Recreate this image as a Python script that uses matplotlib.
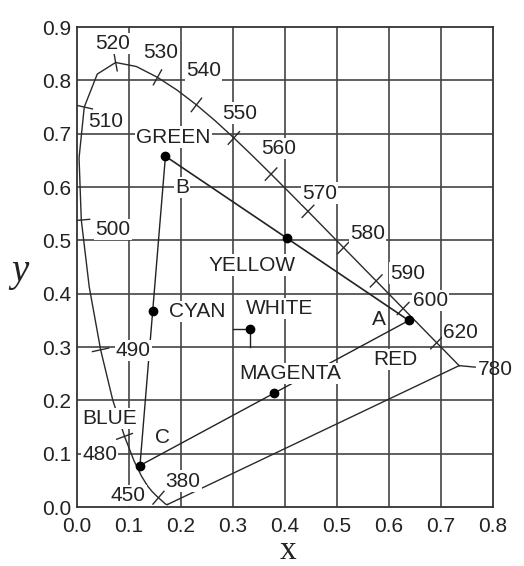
import numpy as np
import matplotlib.pyplot as plt

# CIE 1931 spectral locus (wavelength nm, x, y)
wavelengths = [380, 385, 390, 395, 400, 405, 410, 415, 420, 425, 430, 435, 440, 445,
               450, 455, 460, 465, 470, 475, 480, 485, 490, 495, 500, 505, 510, 515,
               520, 525, 530, 535, 540, 545, 550, 555, 560, 565, 570, 575, 580, 585,
               590, 595, 600, 605, 610, 615, 620, 625, 630, 635, 640, 645, 650, 660,
               670, 680, 700, 780]
locus_x = [0.1741, 0.1740, 0.1738, 0.1736, 0.1733, 0.1730, 0.1726, 0.1721, 0.1714,
           0.1703, 0.1689, 0.1669, 0.1644, 0.1611, 0.1566, 0.1510, 0.1440, 0.1355,
           0.1241, 0.1096, 0.0913, 0.0687, 0.0454, 0.0235, 0.0082, 0.0039, 0.0139,
           0.0389, 0.0743, 0.1142, 0.1547, 0.1929, 0.2296, 0.2658, 0.3016, 0.3373,
           0.3731, 0.4087, 0.4441, 0.4788, 0.5125, 0.5448, 0.5752, 0.6029, 0.6270,
           0.6482, 0.6658, 0.6801, 0.6915, 0.7006, 0.7079, 0.7140, 0.7190, 0.7230,
           0.7260, 0.7300, 0.7320, 0.7347, 0.7347, 0.7347]
locus_y = [0.0050, 0.0050, 0.0049, 0.0049, 0.0048, 0.0048, 0.0048, 0.0048, 0.0051,
           0.0058, 0.0069, 0.0086, 0.0109, 0.0138, 0.0177, 0.0227, 0.0297, 0.0399,
           0.0578, 0.0868, 0.1327, 0.2007, 0.2950, 0.4127, 0.5384, 0.6548, 0.7502,
           0.8120, 0.8338, 0.8262, 0.8059, 0.7816, 0.7543, 0.7243, 0.6923, 0.6589,
           0.6245, 0.5896, 0.5547, 0.5202, 0.4866, 0.4544, 0.4242, 0.3965, 0.3725,
           0.3514, 0.3340, 0.3197, 0.3083, 0.2993, 0.2920, 0.2859, 0.2809, 0.2770,
           0.2740, 0.2700, 0.2680, 0.2653, 0.2653, 0.2653]

# wavelength labels and where their text sits
tick_wl = [450, 480, 490, 500, 510, 520, 530, 540, 550, 560, 570, 580, 590, 600, 620]
tick_label_x = [0.098, 0.044, 0.108, 0.069, 0.056, 0.069, 0.160, 0.244, 0.312,
                0.387, 0.467, 0.558, 0.635, 0.679, 0.737]
tick_label_y = [0.022, 0.098, 0.294, 0.521, 0.724, 0.870, 0.852, 0.818, 0.739,
                0.673, 0.589, 0.514, 0.439, 0.388, 0.328]

# primaries (green, red, blue) and the white point
primary_x = [0.170, 0.638, 0.121]
primary_y = [0.658, 0.350, 0.078]
white_xy = (1 / 3, 1 / 3)

# region labels
region_names = ['GREEN', 'B', 'YELLOW', 'CYAN', 'WHITE', 'MAGENTA', 'RED', 'A', 'BLUE', 'C']
region_x = [0.185, 0.202, 0.337, 0.231, 0.390, 0.410, 0.612, 0.581, 0.062, 0.165]
region_y = [0.694, 0.600, 0.454, 0.366, 0.373, 0.250, 0.276, 0.351, 0.167, 0.131]

plt.rcParams['font.family'] = ['Liberation Sans', 'DejaVu Sans']
fs = 15

fig = plt.figure(figsize=(5.24, 5.66), dpi=100)
ax = fig.add_axes([0.147, 0.104, 0.794, 0.848])
ax.set_xlim(0, 0.8)
ax.set_ylim(0, 0.9)

gc = '#444444'
for v in np.arange(0.1, 0.8, 0.1):
    ax.axvline(v, color=gc, lw=1.2, zorder=1)
for v in np.arange(0.1, 0.9, 0.1):
    ax.axhline(v, color=gc, lw=1.2, zorder=1)
for s in ax.spines.values():
    s.set_color('#333333')
    s.set_linewidth(1.3)

ax.set_xticks(np.arange(0, 0.81, 0.1))
ax.set_yticks(np.arange(0, 0.91, 0.1))
ax.set_xticklabels([f'{v:.1f}' for v in np.arange(0, 0.81, 0.1)])
ax.set_yticklabels([f'{v:.1f}' for v in np.arange(0, 0.91, 0.1)])
ax.tick_params(length=0, labelsize=fs, labelcolor='#222222')
ax.tick_params(axis='x', pad=7)
ax.tick_params(axis='y', pad=4)

lx = np.array(locus_x)
ly = np.array(locus_y)
ax.plot(lx, ly, color='#2a2a2a', lw=1.0, zorder=3)
# line of purples
ax.plot([lx[0], lx[-1]], [ly[0], ly[-1]], color='#2a2a2a', lw=1.0, zorder=3)

# perpendicular ticks on the locus
for wl in tick_wl:
    k = wavelengths.index(wl)
    dx = lx[k + 1] - lx[k - 1]
    dy = ly[k + 1] - ly[k - 1]
    n = np.hypot(dx, dy)
    px, py = -dy / n * 0.016, dx / n * 0.016
    ax.plot([lx[k] - px, lx[k] + px], [ly[k] - py, ly[k] + py],
            color='#2a2a2a', lw=1.0, zorder=3)

box = dict(facecolor='white', edgecolor='none', pad=0.8)
for wl, tx, ty in zip(tick_wl, tick_label_x, tick_label_y):
    ax.text(tx, ty, str(wl), fontsize=fs, ha='center', va='center',
            color='#222222', bbox=box, zorder=4)

ax.annotate('380', xy=(lx[0], ly[0]), xytext=(0.204, 0.049), fontsize=fs,
            ha='center', va='center', color='#222222', bbox=box, zorder=4)
ax.annotate('780', xy=(lx[-1], ly[-1]), xytext=(0.805, 0.259), fontsize=fs,
            ha='center', va='center', color='#222222', annotation_clip=False,
            arrowprops=dict(arrowstyle='-', color='#2a2a2a', lw=1.0,
                            shrinkA=0, shrinkB=0), zorder=4)

# triangle of primaries
gx, rx, bx = primary_x
gy, ry, by = primary_y
ax.plot([gx, rx], [gy, ry], color='#222222', lw=1.2, zorder=3)
ax.plot([gx, bx], [gy, by], color='#222222', lw=1.0, zorder=3)
ax.plot([bx, rx], [by, ry], color='#222222', lw=1.0, zorder=3)

mix_x = [gx, rx, bx, (gx + rx) / 2, (gx + bx) / 2, (bx + rx) / 2, white_xy[0]]
mix_y = [gy, ry, by, (gy + ry) / 2, (gy + by) / 2, (by + ry) / 2, white_xy[1]]
ax.plot(mix_x, mix_y, 'o', color='black', ms=6, zorder=6)

# white point pointer lines
ax.plot([0.3, white_xy[0]], [white_xy[1], white_xy[1]], color='#222222', lw=1.0, zorder=3)
ax.plot([white_xy[0], white_xy[0]], [white_xy[1], 0.3], color='#222222', lw=1.0, zorder=3)

for name, tx, ty in zip(region_names, region_x, region_y):
    ax.text(tx, ty, name, fontsize=fs, ha='center', va='center',
            color='#222222', bbox=box, zorder=5)

fig.text(288 / 524, 0.0, 'x', fontsize=24, family='Liberation Serif',
         ha='center', va='bottom', color='#222222')
fig.text(20 / 524, 1 - 272 / 566, 'y', fontsize=28, family='Liberation Serif',
         style='italic', ha='center', va='center', color='#222222')

fig.savefig('out.png', dpi=100)
